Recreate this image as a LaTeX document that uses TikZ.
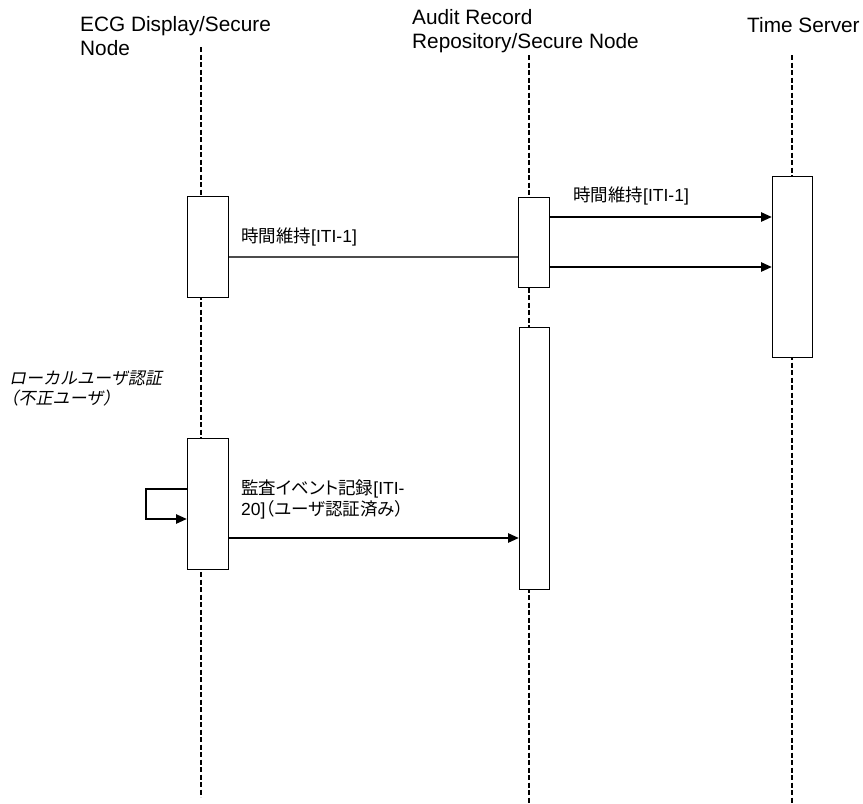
\documentclass[tikz,border=0pt]{standalone}
\usepackage{fontspec}
\setmainfont{Liberation Sans}
\newfontfamily\jp[RawFeature=+palt]{Noto Sans CJK JP}
\newfontfamily\jpit[FakeSlant=0.2]{Noto Sans CJK JP}
\usetikzlibrary{arrows.meta}

\begin{document}
\begin{tikzpicture}[x=1pt,y=-1pt,
  every node/.style={font=\fontsize{17.5}{21}\selectfont, inner sep=0pt},
  txt/.style={anchor=base west, align=left},
  head/.style={txt, font=\fontsize{20.8}{23.5}\selectfont},
  actbox/.style={draw, fill=white, line width=1.3pt, anchor=north west},
  life/.style={line width=2pt, dash pattern=on 5pt off 2.5pt},
  call/.style={line width=2.5pt, -{Triangle[length=11pt,width=9pt]}}]
  \useasboundingbox (0,0) rectangle (863,804);

  % headers
  \node[head] (ecg) at (80,55) {ECG Display/Secure\\Node};
  \node[head] (arr) at (412,48) {Audit Record\\Repository/Secure Node};
  \node[head] (ts) at (747,32) {Time Server};

  % lifelines
  \coordinate (ecgtop) at (201,47);
  \coordinate (ecgbot) at (201,797);
  \coordinate (arrtop) at (529,55);
  \coordinate (arrbot) at (529,804);
  \coordinate (tstop) at (792,55);
  \coordinate (tsbot) at (792,804);
  \draw[life] (ecgtop) -- (ecgbot);
  \draw[life] (arrtop) -- (arrbot);
  \draw[life] (tstop) -- (tsbot);

  % activations
  \node[actbox, minimum width=41pt, minimum height=101pt] (ecg1) at (187,196) {};
  \node[actbox, minimum width=31pt, minimum height=90pt] (arr1) at (518,197) {};
  \node[actbox, minimum width=40pt, minimum height=181pt] (ts1) at (772,176) {};
  \node[actbox, minimum width=30pt, minimum height=262pt] (arr2) at (519,327) {};
  \node[actbox, minimum width=41pt, minimum height=131pt] (ecg2) at (187,438) {};

  % messages
  \coordinate (m0) at (0,257);
  \coordinate (m1) at (0,217);
  \coordinate (m2) at (0,267);
  \coordinate (m3) at (0,538);
  \draw[line width=1.3pt, black!70] (ecg1.east |- m0) -- (arr1.west |- m0);
  \draw[call] (arr1.east |- m1) -- (ts1.west |- m1);
  \draw[call] (arr1.east |- m2) -- (ts1.west |- m2);
  \draw[call] (ecg2.east |- m3) -- (arr2.west |- m3);

  \coordinate (lp1) at (146,489);
  \coordinate (lp2) at (146,519);
  \draw[line width=1.6pt] (ecg2.west |- lp1) -- (lp1) -- ([yshift=-1pt]lp2);
  \draw[call] (lp2) -- (ecg2.west |- lp2);

  \node[txt] (l1) at (241,242) {{\jp 時間維持}[ITI-1]};
  \node[txt] (l2) at (573,201) {{\jp 時間維持}[ITI-1]};
  \node[txt] (l3) at (241,515) {{\jp 監査イベント記録}[ITI-\\20]{\jp （ユーザ認証済み）}};
  \node[txt, font=\jpit\fontsize{17}{20}\selectfont] (l4) at (9,404) {ローカルユーザ認証\\\hspace*{-0.45em}（不正ユーザ）};
\end{tikzpicture}
\end{document}
